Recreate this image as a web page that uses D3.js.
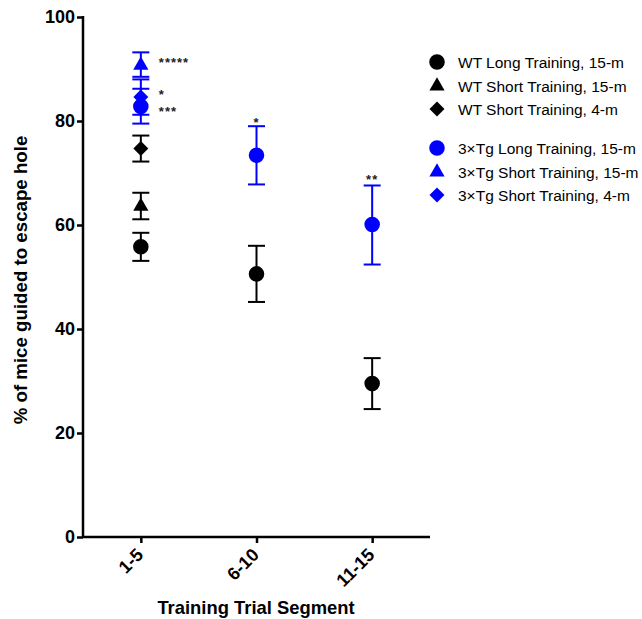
<!DOCTYPE html>
<html><head><meta charset="utf-8">
<script src="https://cdn.jsdelivr.net/npm/d3@7"></script>
<style>body{margin:0;background:#fff;} svg{display:block;font-family:"Liberation Sans",Arial,sans-serif;}</style>
</head><body>
<script>
const categories = ["1-5","6-10","11-15"];
const yTicks = [0,20,40,60,80,100];
const seriesNames = ["WT Long Training, 15-m","WT Short Training, 15-m","WT Short Training, 4-m",
  "3×Tg Long Training, 15-m","3×Tg Short Training, 15-m","3×Tg Short Training, 4-m"];
const seriesColors = ["#000","#000","#000","#0000ff","#0000ff","#0000ff"];
const seriesShapes = ["circle","triangle","diamond","circle","triangle","diamond"];
const wtLongMean = [55.8, 50.6, 29.5];
const wtLongLow  = [53.1, 45.2, 24.6];
const wtLongHigh = [58.5, 56.0, 34.4];
const wtShort15Mean = [63.6, null, null];
const wtShort15Low  = [61.1, null, null];
const wtShort15High = [66.2, null, null];
const wtShort4Mean = [74.7, null, null];
const wtShort4Low  = [72.2, null, null];
const wtShort4High = [77.2, null, null];
const tgLongMean = [82.8, 73.4, 60.1];
const tgLongLow  = [79.5, 67.8, 52.4];
const tgLongHigh = [86.2, 79.0, 67.6];
const tgShort15Mean = [90.7, null, null];
const tgShort15Low  = [88.5, null, null];
const tgShort15High = [93.2, null, null];
const tgShort4Mean = [84.6, null, null];
const tgShort4Low  = [81.2, null, null];
const tgShort4High = [88.0, null, null];
// significance annotations
const sigCats = ["1-5","1-5","1-5","6-10","11-15"];
const sigVals = [92.4, 86.1, 82.9, 80.8, 69.8];
const sigLabels = ["*****","*","***","*","**"];
const sigOffset = [true, true, true, false, false];

const means = [wtLongMean, wtShort15Mean, wtShort4Mean, tgLongMean, tgShort15Mean, tgShort4Mean];
const lows = [wtLongLow, wtShort15Low, wtShort4Low, tgLongLow, tgShort15Low, tgShort4Low];
const highs = [wtLongHigh, wtShort15High, wtShort4High, tgLongHigh, tgShort15High, tgShort4High];

const W = 642, H = 619;
const FONT = "Liberation Sans, Arial, sans-serif";
const svg = d3.select("body").append("svg").attr("width", W).attr("height", H);

const x = d3.scalePoint().domain(categories).range([83, 430]).padding(0.5);
const y = d3.scaleLinear().domain([0, 100]).range([537, 17]);

const symType = {circle: d3.symbolCircle, triangle: d3.symbolTriangle, diamond: d3.symbolSquare};
const symSize = {circle: 190, triangle: 100, diamond: 112};
function symTransform(sh, cx, cy) {
  return `translate(${cx},${cy})` + (sh === "diamond" ? " rotate(45)" : "");
}

const drawOrder = [0,1,2,5,3,4];
drawOrder.forEach(si => {
  const g = svg.append("g");
  const col = seriesColors[si];
  categories.forEach((c, ci) => {
    const m = means[si][ci];
    if (m == null) return;
    const cx = x(c);
    g.append("line").attr("x1", cx).attr("x2", cx).attr("y1", y(lows[si][ci])).attr("y2", y(highs[si][ci]))
      .attr("stroke", col).attr("stroke-width", 2);
    [lows[si][ci], highs[si][ci]].forEach(v => {
      g.append("line").attr("x1", cx - 8.5).attr("x2", cx + 8.5).attr("y1", y(v)).attr("y2", y(v))
        .attr("stroke", col).attr("stroke-width", 2);
    });
    const sh = seriesShapes[si];
    g.append("path").attr("d", d3.symbol(symType[sh], symSize[sh])())
      .attr("transform", symTransform(sh, cx, y(m)))
      .attr("fill", col);
  });
});

// axes
const yAxis = d3.axisLeft(y).tickValues(yTicks).tickSize(6).tickPadding(2);
const ga = svg.append("g").attr("transform", "translate(83,0)").call(yAxis);
ga.select(".domain").attr("stroke-width", 2.5).attr("d", "M0,16V537");
ga.selectAll(".tick line").attr("stroke-width", 2.5);
ga.selectAll(".tick text").attr("font-size", 18).attr("font-weight", "bold").attr("font-family", FONT).attr("fill", "#000");

const xAxis = d3.axisBottom(x).tickSize(6).tickSizeOuter(0);
const gx = svg.append("g").attr("transform", "translate(0,537)").call(xAxis);
gx.select(".domain").attr("stroke-width", 2.5).attr("d", "M82,0H430");
gx.selectAll(".tick line").attr("stroke-width", 2.5);
gx.selectAll(".tick text").attr("font-size", 18).attr("font-weight", "bold").attr("font-family", FONT).attr("fill", "#000")
  .attr("text-anchor", "end").attr("dy", null).attr("y", 0)
  .attr("transform", "translate(3,19) rotate(-45)");

// axis titles
svg.append("text").attr("transform", "translate(27,280) rotate(-90)").attr("text-anchor", "middle")
  .attr("font-size", 18.7).attr("font-weight", "bold").attr("font-family", FONT).text("% of mice guided to escape hole");
svg.append("text").attr("x", 256).attr("y", 614).attr("text-anchor", "middle")
  .attr("font-size", 18.4).attr("font-weight", "bold").attr("font-family", FONT).text("Training Trial Segment");

// significance
sigLabels.forEach((lab, i) => {
  svg.append("text").attr("x", sigOffset[i] ? x(sigCats[i]) + 18 : x(sigCats[i]))
    .attr("y", y(sigVals[i]) + 10)
    .attr("text-anchor", sigOffset[i] ? "start" : "middle")
    .attr("font-size", 13).attr("letter-spacing", 1).attr("font-weight", "bold").attr("font-family", FONT).attr("fill", "#222").text(lab);
});

// legend
const legY = [62, 86, 109, 148, 172, 195];
seriesNames.forEach((n, i) => {
  const sh = seriesShapes[i];
  svg.append("path").attr("d", d3.symbol(symType[sh], symSize[sh])())
    .attr("transform", symTransform(sh, 437, legY[i]))
    .attr("fill", seriesColors[i]);
  svg.append("text").attr("x", 458).attr("y", legY[i] + 5.5).attr("font-size", 15.5).attr("font-family", FONT).attr("fill", "#000").text(n);
});
</script>
</body></html>
